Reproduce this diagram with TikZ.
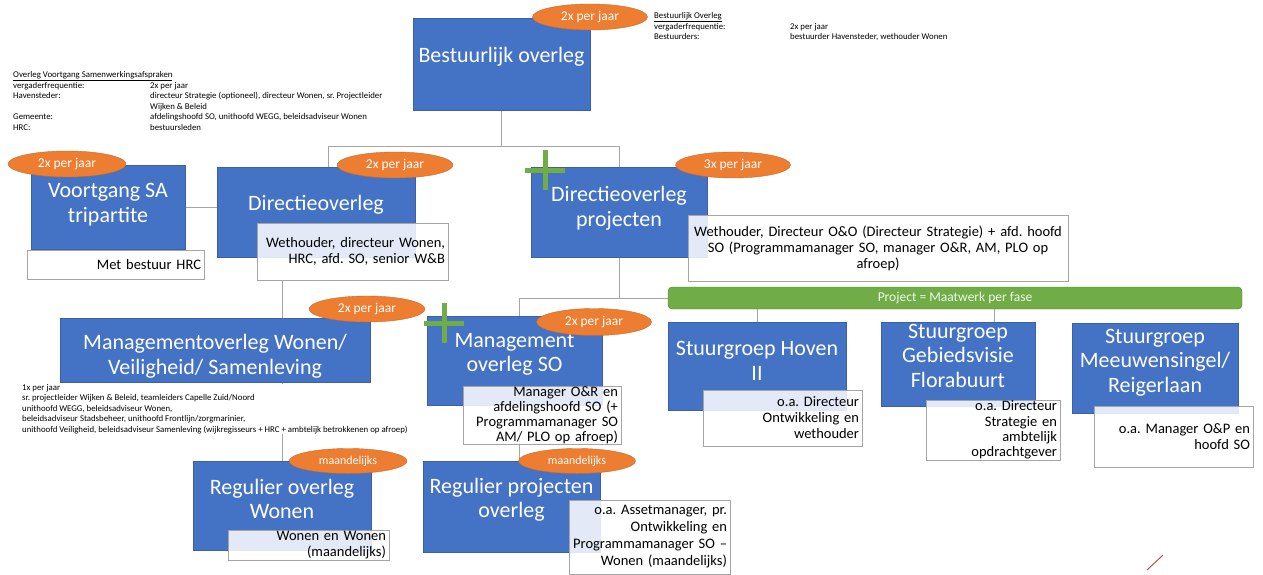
\documentclass[tikz,border=0pt]{standalone}
\usepackage{fontspec}
\setmainfont{Carlito}
\usetikzlibrary{shapes.geometric, backgrounds, calc}
\definecolor{vakblauw}{HTML}{4472C4}
\definecolor{freqoranje}{HTML}{ED7D31}
\definecolor{projgroen}{HTML}{70AD47}
\definecolor{lijngrijs}{HTML}{A5A5A5}
\definecolor{rodestreep}{HTML}{C0504D}
\newcommand{\fs}[2]{\fontsize{#1}{#2}\selectfont}
% titel iets hoger in het vak
\newcommand{\titel}[2][6pt]{\raisebox{#1}[\height][\depth]{\begin{tabular}{@{}c@{}}#2\end{tabular}}}
\frenchspacing

\begin{document}
\begin{tikzpicture}
	[x=1pt, y=-1pt,
	vak/.style={draw=vakblauw!85!black, fill=vakblauw, text=white, inner sep=0pt, font=\fs{22}{24.5}},
	freq/.style={ellipse, draw=freqoranje!85!black, fill=freqoranje, text=white, inner sep=0pt, minimum height=26pt, font=\fs{13.5}{15}},
	uitleg/.style={draw=lijngrijs, fill=white, fill opacity=0.85, text opacity=1, align=right, inner xsep=3pt, inner ysep=0pt, font=\fs{14.5}{16}},
	lijn/.style={draw=lijngrijs, line width=1pt},
	plusje/.style={draw=projgroen, line width=5pt},
	notitie/.style={inner sep=0pt, anchor=north west, align=left, font=\fs{8.8}{10.5}}]
	\useasboundingbox (0,0) rectangle (1263,575);
	
	% bestuur
	\node[vak, minimum width=177pt, minimum height=92pt] (bo) at (501.5,64) {\titel{Bestuurlijk overleg}};
	\node[freq, minimum width=115pt] (bofreq) at (590,17) {2x per jaar};
	\node[notitie] (notbo) at (654,11) {\begin{tabular}{@{}p{136pt}@{}l@{}}
			\underline{Bestuurlijk Overleg} & \\
			vergaderfrequentie: & 2x per jaar\\
			Bestuurders: & bestuurder Havensteder, wethouder Wonen
		\end{tabular}};
	
	% directie
	\node[vak, minimum width=154pt, minimum height=84pt] (vo) at (108,207) {\titel[2pt]{Voortgang SA\\tripartite}};
	\node[freq, minimum width=118pt] (vofreq) at (67,164) {2x per jaar};
	\node[uitleg, text width=171pt, minimum height=29pt] (votxt) at (115.5,264.5) {Met bestuur HRC};
	\node[notitie] (notvo) at (13,70) {\begin{tabular}{@{}p{137pt}@{}l@{}}
			\multicolumn{2}{@{}l@{}}{\underline{Overleg Voortgang Samenwerkingsafspraken}}\\
			vergaderfrequentie: & 2x per jaar\\
			Havensteder: & directeur Strategie (optioneel), directeur Wonen, sr. Projectleider\\
			& Wijken \& Beleid\\
			Gemeente: & afdelingshoofd SO, unithoofd WEGG, beleidsadviseur Wonen\\
			HRC: & bestuursleden
		\end{tabular}};
	
	\node[vak, minimum width=198pt, minimum height=90pt] (dir) at (316,212) {\titel{Directieoverleg}};
	\node[freq, minimum width=116pt] (dirfreq) at (395,165) {2x per jaar};
	\node[uitleg, text width=185pt, minimum height=57pt] (dirtxt) at (352.5,251.5) {Wethouder, directeur Wonen,\\HRC, afd. SO, senior W\&B};
	
	\node[vak, minimum width=176pt, minimum height=90pt] (dp) at (619,212) {\titel[3pt]{Directieoverleg\\projecten}};
	\node[freq, minimum width=115pt] (dpfreq) at (733,165) {3x per jaar};
	\node[uitleg, align=center, text width=374pt, minimum height=66pt] (dptxt) at (878,248) {Wethouder, Directeur O\&O (Directeur Strategie) + afd. hoofd\\SO (Programmamanager SO, manager O\&R, AM, PLO op\\afroep)};
	\draw[plusje] (525,170) -- (565,170) (545,150) -- (545,190);
	
	% management
	\node[vak, minimum width=310pt, minimum height=64pt] (mw) at (215,350) {\titel[-7pt]{Managementoverleg Wonen/\\Veiligheid/ Samenleving}};
	\node[freq, minimum width=116pt] (mwfreq) at (367,309) {2x per jaar};
	\node[notitie, fill=white] (notmw) at (22,384) {1x per jaar\\
		sr. projectleider Wijken \& Beleid, teamleiders Capelle Zuid/Noord\\
		unithoofd WEGG, beleidsadviseur Wonen,\\
		beleidsadviseur Stadsbeheer, unithoofd Frontlijn/zorgmarinier,\\
		unithoofd Veiligheid, beleidsadviseur Samenleving (wijkregisseurs + HRC + ambtelijk betrokkenen op afroep)};
	
	\node[vak, minimum width=175pt, minimum height=89pt] (ms) at (514.5,360.5) {\titel{Management\\overleg SO}};
	\node[freq, minimum width=115pt, minimum height=27pt] (msfreq) at (594,322) {2x per jaar};
	\node[uitleg, text width=152pt, minimum height=58pt, font=\fs{14.5}{15}] (mstxt) at (542,415) {Manager O\&R en\\afdelingshoofd SO (+\\Programmamanager SO\\AM/ PLO op afroep)};
	\draw[plusje] (424,323) -- (464,323) (444,303) -- (444,343);
	
	% regulier
	\node[vak, minimum width=178pt, minimum height=89pt] (rw) at (282,505.5) {\titel[4pt]{Regulier overleg\\Wonen}};
	\node[freq, minimum width=118pt, minimum height=25pt, font=\fs{12}{14}] (rwfreq) at (348,461) {maandelijks};
	\node[uitleg, text width=155pt, minimum height=30pt] (rwtxt) at (308.5,545) {Wonen en Wonen\\(maandelijks)};
	
	\node[vak, minimum width=177pt, minimum height=91pt] (rp) at (511.5,506.5) {\titel{Regulier projecten\\overleg}};
	\node[freq, minimum width=117pt, minimum height=25pt, font=\fs{12}{14}] (rpfreq) at (577,461) {maandelijks};
	\node[uitleg, text width=155pt, minimum height=74pt, font=\fs{14.5}{17}] (rptxt) at (649.5,537) {o.a. Assetmanager, pr.\\Ontwikkeling en\\Programmamanager SO --\\Wonen (maandelijks)};
	
	% projecten
	\node[draw=projgroen!75!black, fill=projgroen, rounded corners=4pt, minimum width=574pt, minimum height=22pt, inner sep=0pt, text=white!90!projgroen, font=\fs{13.5}{15}] (bar) at (955,298) {Project = Maatwerk per fase};
	
	\node[vak, minimum width=178pt, minimum height=88pt] (hov) at (757,366) {\titel[3pt]{Stuurgroep Hoven\\II}};
	\node[uitleg, text width=153pt, minimum height=56pt] (hovtxt) at (782.5,418) {o.a. Directeur\\Ontwikkeling en\\wethouder};
	
	\node[vak, minimum width=154pt, minimum height=84pt] (flo) at (958,364) {\titel{Stuurgroep\\Gebiedsvisie\\Florabuurt}};
	\node[uitleg, text width=128pt, minimum height=60pt, font=\fs{14.5}{15.3}] (flotxt) at (993,430) {o.a. Directeur\\Strategie en\\ambtelijk\\opdrachtgever};
	
	\node[vak, minimum width=166pt, minimum height=90pt] (meu) at (1155,368) {\titel[5pt]{Stuurgroep\\Meeuwensingel/\\Reigerlaan}};
	\node[uitleg, text width=153pt, minimum height=61pt] (meutxt) at (1173.5,436.5) {o.a. Manager O\&P en\\hoofd SO};
	
	\draw[draw=rodestreep, line width=1pt] (1147,570) -- (1163,555);
	
	% lijnen
	\begin{scope}[on background layer]
		\fill[white] (0,0) rectangle (1263,575);
		\draw[lijn] (bo.south) -- ++(0,36) coordinate (tak);
		\draw[lijn] ([xshift=12pt]dir.north) |- (tak) -| (dp.north);
		\draw[lijn] (vo.east) -- (vo.east -| dir.west);
		\draw[lijn] (dirtxt.south -| rw.north) -- (rw.north);
		\draw[lijn] (dp.south) |- (bar.west);
		\draw[lijn] (bar.west) -| ([xshift=8pt]rp.north);
		\draw[lijn] (bar.south -| hov.north) -- (hov.north);
		\draw[lijn] ([xshift=36pt]flo.north) -- ([xshift=36pt]flo.north |- bar.south);
	\end{scope}
\end{tikzpicture}
\end{document}
